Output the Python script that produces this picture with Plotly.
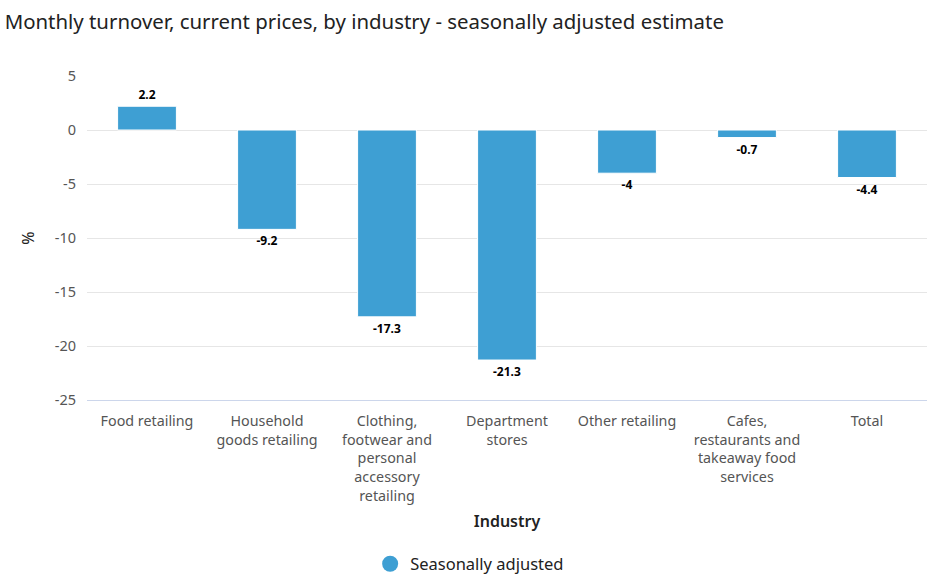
import plotly.graph_objects as go

categories = [
    "Food retailing",
    "Household<br>goods retailing",
    "Clothing,<br>footwear and<br>personal<br>accessory<br>retailing",
    "Department<br>stores",
    "Other retailing",
    "Cafes,<br>restaurants and<br>takeaway food<br>services",
    "Total",
]
values = [2.2, -9.2, -17.3, -21.3, -4, -0.7, -4.4]
y_ticks = [5, 0, -5, -10, -15, -20, -25]

FONT = "Noto Sans"
BAR_COLOR = "#3e9fd3"

fig = go.Figure()
fig.add_trace(go.Bar(
    x=categories, y=values,
    marker=dict(color=BAR_COLOR, line=dict(color="#ffffff", width=1)),
    width=0.49,
    text=[f"{v:g}" for v in values],
    textposition="outside",
    textfont=dict(family=FONT, size=12, color="#000000", weight="bold"),
    cliponaxis=False,
    showlegend=False,
    hoverinfo="skip",
))
fig.add_trace(go.Scatter(
    x=[None], y=[None], mode="markers",
    marker=dict(color=BAR_COLOR, size=17, symbol="circle"),
    name="Seasonally adjusted",
    showlegend=True,
))

fig.update_layout(
    width=930, height=586,
    margin=dict(l=87, r=3, t=76, b=186),
    paper_bgcolor="white", plot_bgcolor="white",
    font=dict(family=FONT, color="#333333"),
    title=dict(
        text="Monthly turnover, current prices, by industry - seasonally adjusted estimate",
        x=0.005, xref="container", xanchor="left",
        y=1 - 22 / 586, yref="container", yanchor="middle",
        font=dict(family=FONT, size=20.4, color="#222222"),
    ),
    bargap=0.5,
    legend=dict(
        orientation="h", x=0.505, xref="container", xanchor="center",
        y=1 - 564 / 586, yref="container", yanchor="middle",
        font=dict(family=FONT, size=16.5, color="#222222"),
        itemsizing="trace",
    ),
    xaxis=dict(
        showline=True, linecolor="#ccd6eb", linewidth=1,
        tickfont=dict(family=FONT, size=14.3, color="#555555"),
        ticks="", showgrid=False,
        ticklabelstandoff=8,
        title=dict(text="Industry", font=dict(family=FONT, size=16, color="#222222", weight=600), standoff=12),
    ),
    yaxis=dict(
        range=[-25, 5], tickvals=y_ticks, ticktext=[str(t) for t in y_ticks],
        showgrid=True, gridcolor="#e6e6e6", gridwidth=1,
        zeroline=True, zerolinecolor="#e6e6e6", zerolinewidth=1,
        tickfont=dict(family=FONT, size=14.5, color="#555555"),
        ticklabelstandoff=10,
        title=dict(text="%", font=dict(family=FONT, size=16, color="#222222"), standoff=16),
    ),
)

fig.write_html("out.html", config={"displayModeBar": False},
               post_script="document.body.style.margin='0';")
